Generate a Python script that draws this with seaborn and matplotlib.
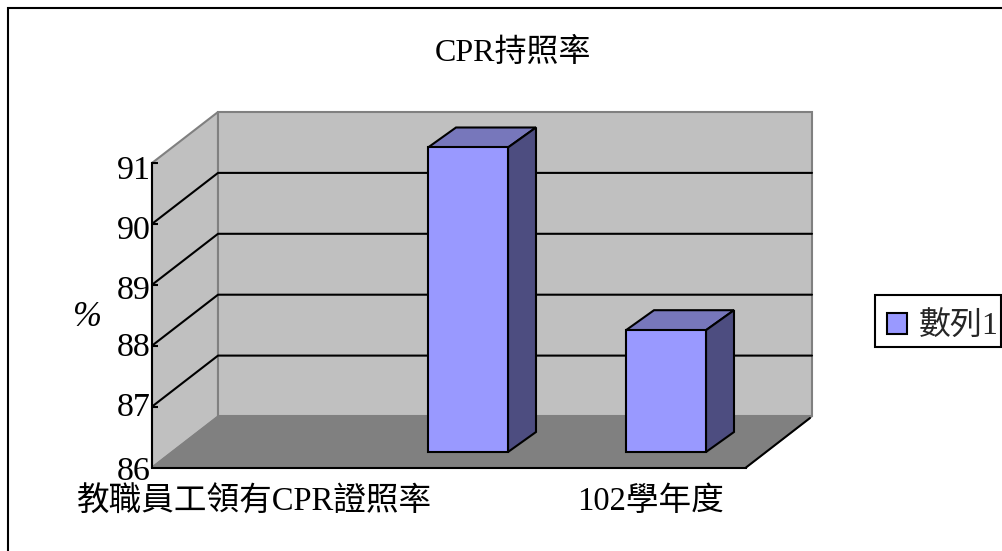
import numpy as np
import matplotlib
matplotlib.use("Agg")
import matplotlib.pyplot as plt
from matplotlib.patches import Polygon, Patch, Rectangle
from matplotlib.lines import Line2D
from matplotlib.transforms import Affine2D, IdentityTransform
import seaborn as sns
import pandas as pd

categories = ["教職員工領有CPR證照率", " ", "102學年度"]
values = [np.nan, 91, 88]
series_name = "數列1"
chart_title = "CPR持照率"
y_ticks = [86, 87, 88, 89, 90, 91]

sns.set_theme(style="white")
plt.rcParams["font.family"] = ["Liberation Serif", "Noto Sans CJK TC"]
plt.rcParams["axes.unicode_minus"] = False

W, H = 1003, 551
fig = plt.figure(figsize=(W / 100, H / 100), dpi=100, facecolor="white")
# front plane of the fake 3d box, in pixels
ax = fig.add_axes([152 / W, (H - 467.5) / H, 594 / W, 304.5 / H])
ax.patch.set_visible(False)

df = pd.DataFrame({"cat": categories, "val": values})
sns.barplot(data=df, x="cat", y="val", order=categories, color="#9999FF", saturation=1,
            width=0.404, edgecolor="black", linewidth=1.5, errorbar=None, ax=ax)
bars = [b for b in ax.patches if not np.isnan(b.get_height())]

ax.set_xlim(-0.5, 2.5)
ax.set_ylim(86, 91)

WALL_DX, WALL_DY = 66, 51
BAR_DX, BAR_DY = 19, 15.5
BAR_DEPTH_X, BAR_DEPTH_Y = 28, 20


def px(x, y, dx=0, dy=0):
    p = ax.transData.transform((x, y))
    return (p[0] + dx, p[1] + dy)


def face(points, color, edge, lw, z):
    ax.add_patch(Polygon(points, closed=True, facecolor=color, edgecolor=edge, linewidth=lw,
                         transform=IdentityTransform(), clip_on=False, zorder=z, joinstyle="miter"))


# walls and floor
x0, x1 = ax.get_xlim()
y0, y1 = ax.get_ylim()
face([px(x0, y0), px(x0, y0, WALL_DX, WALL_DY), px(x0, y1, WALL_DX, WALL_DY), px(x0, y1)],
     "#C0C0C0", "#808080", 1.5, 0.5)
face([px(x0, y0, WALL_DX, WALL_DY), px(x1, y0, WALL_DX, WALL_DY),
      px(x1, y1, WALL_DX, WALL_DY), px(x0, y1, WALL_DX, WALL_DY)],
     "#C0C0C0", "#808080", 1.5, 0.6)
face([px(x0, y0), px(x1, y0), px(x1, y0, WALL_DX, WALL_DY), px(x0, y0, WALL_DX, WALL_DY)],
     "#808080", "#808080", 1, 0.7)

# gridlines run along the left wall and the back wall
for t in y_ticks[1:-1]:
    pts = np.array([px(x0, t), px(x0, t, WALL_DX, WALL_DY), px(x1, t, WALL_DX, WALL_DY)])
    ax.add_line(Line2D(pts[:, 0], pts[:, 1], color="black", lw=1.5,
                       transform=IdentityTransform(), clip_on=False, zorder=1))

# front right edge of the floor
pts = np.array([px(x1, y0), px(x1, y0, WALL_DX - 2, WALL_DY - 1.5)])
ax.add_line(Line2D(pts[:, 0], pts[:, 1], color="black", lw=1.5,
                   transform=IdentityTransform(), clip_on=False, zorder=1))

# bars: move the front face into the box, add top and side
shift = ax.transData + Affine2D().translate(BAR_DX, BAR_DY)
for b in bars:
    top = b.get_height()
    b.set_y(y0)
    b.set_height(top - y0)
    b.set_transform(shift)
    b.set_clip_on(False)
    b.set_zorder(3)
    l = b.get_x()
    r = l + b.get_width()
    d = (BAR_DX + BAR_DEPTH_X, BAR_DY + BAR_DEPTH_Y)
    f = (BAR_DX, BAR_DY)
    face([px(l, top, *f), px(r, top, *f), px(r, top, *d), px(l, top, *d)],
         "#7777BB", "black", 1.5, 2.9)
    face([px(r, y0, *f), px(r, y0, *d), px(r, top, *d), px(r, top, *f)],
         "#4D4D80", "black", 1.5, 2.9)

# axes lines and ticks
for s in ["top", "right"]:
    ax.spines[s].set_visible(False)
for s in ["left", "bottom"]:
    ax.spines[s].set_color("black")
    ax.spines[s].set_linewidth(1.5)
    ax.spines[s].set_zorder(2)

ax.set_yticks(y_ticks)
ax.set_yticklabels([str(t) for t in y_ticks])
ax.tick_params(axis="y", direction="in", length=4, width=1.5, color="black", left=True,
               labelsize=24.5, pad=1, labelcolor="black")
# the original labels sit a little off their ticks
for lab, nudge in zip(ax.get_yticklabels(), [-1, 2, 1, -2, -3, -4]):
    lab.set_transform(lab.get_transform() + Affine2D().translate(0, nudge))

ax.set_xticks(range(len(categories)))
ax.set_xticklabels(categories)
ax.set_xticks([0.5, 1.5, 2.5], minor=True)
ax.tick_params(axis="x", which="major", length=0, labelsize=23.5, pad=14, labelcolor="black")
ax.tick_params(axis="x", which="minor", direction="in", length=4, width=1.5, color="black", bottom=True)
for lab in ax.get_xticklabels():
    lab.set_transform(lab.get_transform() + Affine2D().translate(3.5, 0))
ax.set_xlabel("")
ax.set_ylabel("%", rotation=0, fontsize=25, style="italic", color="black")
ax.yaxis.set_label_coords((87 - 152) / 594, (467.5 - 318) / 304.5)
ax.yaxis.label.set_verticalalignment("center")
ax.yaxis.label.set_horizontalalignment("center")

fig.text(513 / W, 1 - 53 / H, chart_title, fontsize=23, color="black", ha="center", va="center")

# legend box is drawn by hand because the original padding is lopsided
fig.add_artist(Rectangle((875 / W, 1 - 347 / H), 126 / W, 52 / H, transform=fig.transFigure,
                         facecolor="white", edgecolor="black", linewidth=1.5))
leg = fig.legend(handles=[Patch(facecolor="#9999FF", edgecolor="black", linewidth=1.5, label=series_name)],
                 loc="center left", bbox_to_anchor=(887 / W, 1 - 327 / H), fontsize=23, frameon=False,
                 handlelength=0.62, handleheight=0.62, handletextpad=0.36, borderpad=0, borderaxespad=0)

# outer chart border, runs off the image on the right and bottom
fig.add_artist(Rectangle((8 / W, -0.05), 1.1, 1.05 - 8 / H, transform=fig.transFigure, fill=False,
                         edgecolor="black", linewidth=1.5))

fig.savefig("out.png", dpi=100)
